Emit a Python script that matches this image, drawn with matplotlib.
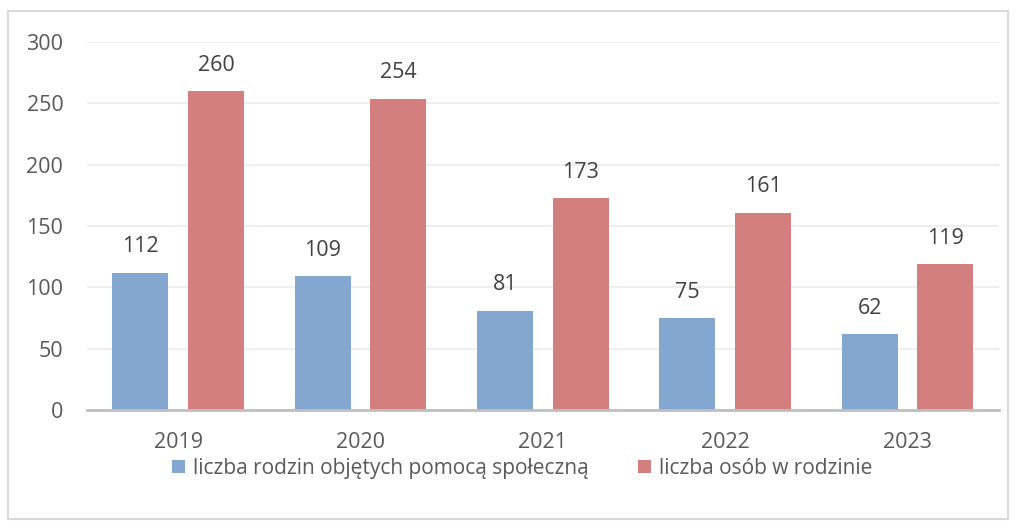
#!/usr/bin/env python3
"""Bar chart: families receiving social assistance vs persons in those families, 2019-2023."""
import numpy as np
import matplotlib
matplotlib.use("Agg")
import matplotlib.pyplot as plt
from matplotlib.patches import Rectangle

years = ["2019", "2020", "2021", "2022", "2023"]
rodziny = [112, 109, 81, 75, 62]
osoby = [260, 254, 173, 161, 119]
labels = ["liczba rodzin objętych pomocą społeczną", "liczba osób w rodzinie"]

BLUE = "#84A7D0"
RED = "#D47F7F"
TXT = "#595959"
FS = 15.5

plt.rcParams["font.family"] = ["Open Sans", "DejaVu Sans"]

fig = plt.figure(figsize=(10.16, 5.27), dpi=100)
ax = fig.add_axes([0.0856, 0.222, 0.8974, 0.698])

x = np.arange(len(years))
w = 0.307
b1 = ax.bar(x - 0.208, rodziny, w, color=BLUE, label=labels[0], zorder=2)
b2 = ax.bar(x + 0.208, osoby, w, color=RED, label=labels[1], zorder=2)

for bars in (b1, b2):
    for r in bars:
        ax.annotate(f"{r.get_height():.0f}", (r.get_x() + r.get_width() / 2, r.get_height()),
                    xytext=(0, 11), textcoords="offset points", ha="center", va="bottom",
                    fontsize=FS, color="#404040")

ax.set_xlim(-0.5, len(years) - 0.5)
ax.set_ylim(0, 300)
ax.set_yticks(range(0, 301, 50))
ax.set_xticks(x)
ax.set_xticklabels(years)
ax.grid(axis="y", color="#EBEBEB", lw=1.2, zorder=0)
ax.tick_params(length=0, labelsize=FS, colors=TXT)
ax.tick_params(axis="y", pad=17)
ax.tick_params(axis="x", pad=16)
for s in ("top", "right", "left"):
    ax.spines[s].set_visible(False)
ax.spines["bottom"].set_color("#BFBFBF")
ax.spines["bottom"].set_linewidth(2)
ax.spines["bottom"].set_zorder(3)

leg = fig.legend(handles=[b1, b2], loc="center", bbox_to_anchor=(0.514, 0.111), ncol=2,
                 frameon=False, fontsize=15, handlelength=0.62, handleheight=0.62,
                 handletextpad=0.38, columnspacing=2.4)
for t in leg.get_texts():
    t.set_color(TXT)

# light outer chart border
fig.patches.append(Rectangle((8 / 1016, 1 - 519 / 527), 1000 / 1016, 508 / 527,
                             transform=fig.transFigure, fill=False, ec="#D9D9D9", lw=1.5))

fig.savefig("out.png", dpi=100)
print("wrote out.png")
